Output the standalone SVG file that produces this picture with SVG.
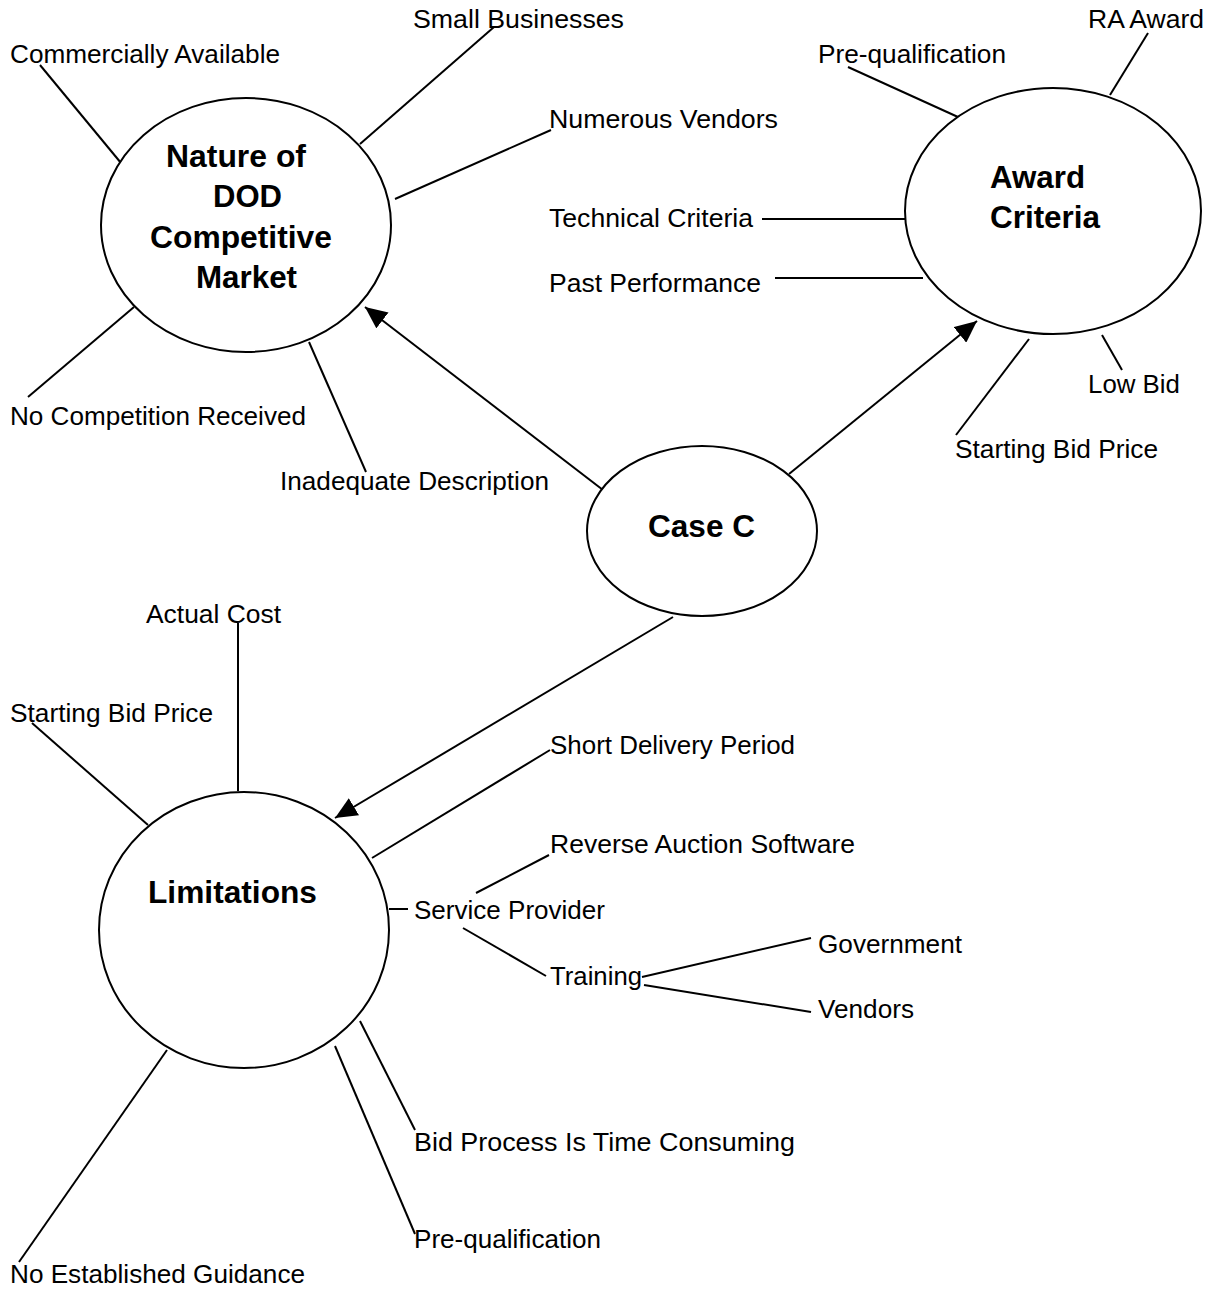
<svg xmlns="http://www.w3.org/2000/svg" width="1215" height="1289" viewBox="0 0 1215 1289">
<style>
.n{fill:#fff;stroke:#000;stroke-width:2}
.t{font-family:"Liberation Sans",Arial,sans-serif;font-size:26px;fill:#000}
.b{font-family:"Liberation Sans",Arial,sans-serif;font-size:31px;font-weight:bold;fill:#000}
.c line{stroke:#000;stroke-width:2}
</style>
<defs>
<marker id="ah" markerUnits="userSpaceOnUse" markerWidth="22" markerHeight="20" refX="22" refY="10" orient="auto" viewBox="0 0 22 20">
<path d="M0,0 L22,10 L0,20 z" fill="#000"/>
</marker>
</defs>
<rect width="1215" height="1289" fill="#fff"/>
<g class="c" id="connectors">
<line x1="40" y1="65" x2="121" y2="163"/>
<line x1="494" y1="27" x2="360" y2="144"/>
<line x1="551" y1="130" x2="395" y2="199"/>
<line x1="28" y1="397" x2="134" y2="307"/>
<line x1="366" y1="472" x2="309" y2="342"/>
<line x1="848" y1="67" x2="958" y2="117"/>
<line x1="1148" y1="33" x2="1110" y2="95"/>
<line x1="762" y1="219" x2="905" y2="219"/>
<line x1="775" y1="278" x2="923" y2="278"/>
<line x1="1102" y1="335" x2="1122" y2="370"/>
<line x1="1029" y1="339" x2="956" y2="435"/>
<line x1="603" y1="490" x2="365" y2="307" marker-end="url(#ah)"/>
<line x1="789" y1="474" x2="977" y2="321" marker-end="url(#ah)"/>
<line x1="673" y1="617" x2="335" y2="818" marker-end="url(#ah)"/>
<line x1="238" y1="623" x2="238" y2="791"/>
<line x1="32" y1="723" x2="148" y2="825"/>
<line x1="550" y1="750" x2="372" y2="858"/>
<line x1="549" y1="855" x2="476" y2="893"/>
<line x1="389" y1="909" x2="408" y2="909"/>
<line x1="463" y1="928" x2="546" y2="976"/>
<line x1="642" y1="977" x2="811" y2="938"/>
<line x1="644" y1="985" x2="811" y2="1012"/>
<line x1="360" y1="1021" x2="415" y2="1130"/>
<line x1="335" y1="1046" x2="415" y2="1234"/>
<line x1="167" y1="1050" x2="19" y2="1262"/>
</g>
<g id="nature">
<ellipse class="n" cx="246" cy="225" rx="145" ry="127"/>
<text class="b" x="166" y="167" textLength="140" lengthAdjust="spacingAndGlyphs">Nature of</text>
<text class="b" x="213" y="207" textLength="69" lengthAdjust="spacingAndGlyphs">DOD</text>
<text class="b" x="150" y="248" textLength="182" lengthAdjust="spacingAndGlyphs">Competitive</text>
<text class="b" x="196" y="288" textLength="101" lengthAdjust="spacingAndGlyphs">Market</text>
</g>
<g id="award">
<ellipse class="n" cx="1053" cy="211" rx="148" ry="123"/>
<text class="b" x="990" y="188" textLength="95" lengthAdjust="spacingAndGlyphs">Award</text>
<text class="b" x="990" y="228" textLength="110" lengthAdjust="spacingAndGlyphs">Criteria</text>
</g>
<g id="casec">
<ellipse class="n" cx="702" cy="531" rx="115" ry="85"/>
<text class="b" x="648" y="537" textLength="107" lengthAdjust="spacingAndGlyphs">Case C</text>
</g>
<g id="limitations">
<ellipse class="n" cx="244" cy="930" rx="145" ry="138"/>
<text class="b" x="148" y="903" textLength="169" lengthAdjust="spacingAndGlyphs">Limitations</text>
</g>
<g id="labels">
<text id="l-small" class="t" x="413" y="28" textLength="211" lengthAdjust="spacingAndGlyphs">Small Businesses</text>
<text id="l-comm" class="t" x="10" y="63" textLength="270" lengthAdjust="spacingAndGlyphs">Commercially Available</text>
<text id="l-numer" class="t" x="549" y="128" textLength="229" lengthAdjust="spacingAndGlyphs">Numerous Vendors</text>
<text id="l-tech" class="t" x="549" y="227" textLength="204" lengthAdjust="spacingAndGlyphs">Technical Criteria</text>
<text id="l-past" class="t" x="549" y="292" textLength="212" lengthAdjust="spacingAndGlyphs">Past Performance</text>
<text id="l-nocomp" class="t" x="10" y="425" textLength="296" lengthAdjust="spacingAndGlyphs">No Competition Received</text>
<text id="l-inad" class="t" x="280" y="490" textLength="269" lengthAdjust="spacingAndGlyphs">Inadequate Description</text>
<text id="l-prequal1" class="t" x="818" y="63" textLength="188" lengthAdjust="spacingAndGlyphs">Pre-qualification</text>
<text id="l-ra" class="t" x="1088" y="28" textLength="116" lengthAdjust="spacingAndGlyphs">RA Award</text>
<text id="l-low" class="t" x="1088" y="393" textLength="92" lengthAdjust="spacingAndGlyphs">Low Bid</text>
<text id="l-sbp1" class="t" x="955" y="458" textLength="203" lengthAdjust="spacingAndGlyphs">Starting Bid Price</text>
<text id="l-actual" class="t" x="146" y="623" textLength="135" lengthAdjust="spacingAndGlyphs">Actual Cost</text>
<text id="l-sbp2" class="t" x="10" y="722" textLength="203" lengthAdjust="spacingAndGlyphs">Starting Bid Price</text>
<text id="l-short" class="t" x="550" y="754" textLength="245" lengthAdjust="spacingAndGlyphs">Short Delivery Period</text>
<text id="l-rev" class="t" x="550" y="853" textLength="305" lengthAdjust="spacingAndGlyphs">Reverse Auction Software</text>
<text id="l-serv" class="t" x="414" y="919" textLength="191" lengthAdjust="spacingAndGlyphs">Service Provider</text>
<text id="l-train" class="t" x="550" y="985" textLength="92" lengthAdjust="spacingAndGlyphs">Training</text>
<text id="l-gov" class="t" x="818" y="953" textLength="144" lengthAdjust="spacingAndGlyphs">Government</text>
<text id="l-vend" class="t" x="818" y="1018" textLength="96" lengthAdjust="spacingAndGlyphs">Vendors</text>
<text id="l-bid" class="t" x="414" y="1151" textLength="381" lengthAdjust="spacingAndGlyphs">Bid Process Is Time Consuming</text>
<text id="l-prequal2" class="t" x="414" y="1248" textLength="187" lengthAdjust="spacingAndGlyphs">Pre-qualification</text>
<text id="l-noest" class="t" x="10" y="1283" textLength="295" lengthAdjust="spacingAndGlyphs">No Established Guidance</text>
</g>
</svg>
